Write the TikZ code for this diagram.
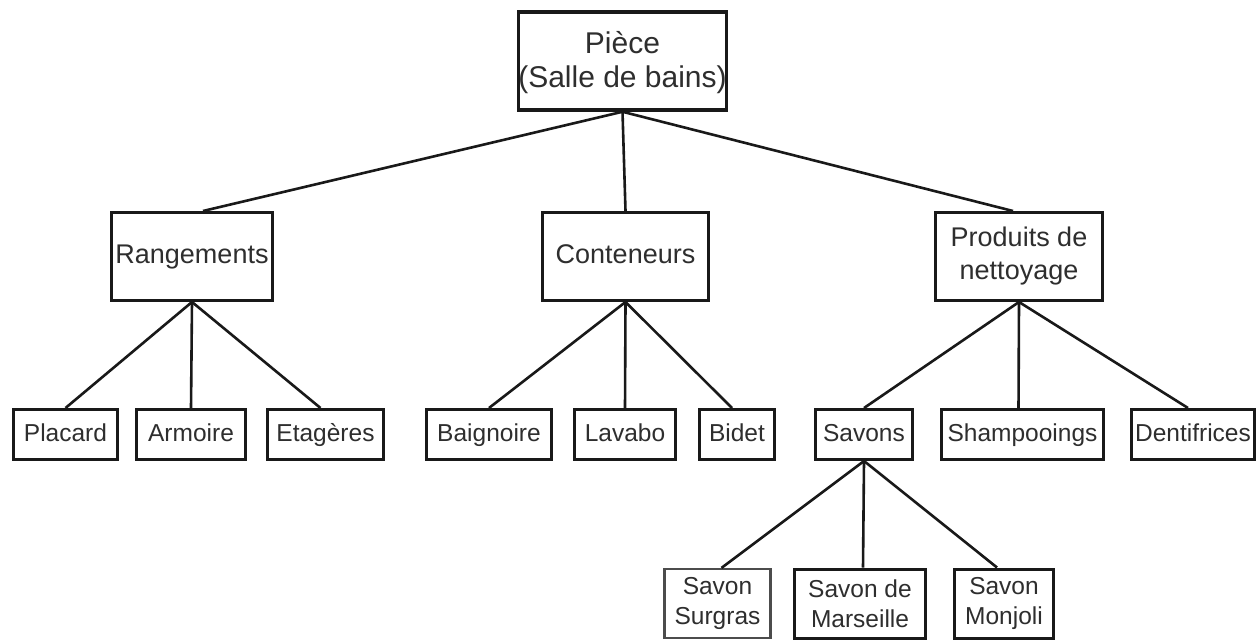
\documentclass[tikz,border=0pt]{standalone}
\usepackage{fontspec}
\setmainfont{Liberation Sans}
\begin{document}
\begin{tikzpicture}[x=1pt,y=-1pt,
  box/.style={draw=black!90, line width=3pt, inner sep=0pt, align=center, text=black!82},
  link/.style={draw=black!90, line width=2.6pt},
  one/.style={text height=18pt, text depth=5pt},
  fA/.style={font=\fontsize{30}{34}\selectfont},
  fB/.style={font=\fontsize{27}{33}\selectfont},
  fC/.style={font=\fontsize{24.5}{30}\selectfont}]
\fill[white] (0,0) rectangle (1257,640);
\useasboundingbox (0,0) rectangle (1257,640);
% level 0
\node[box,fA,line width=3.5pt,minimum width=207pt,minimum height=98pt] (top) at (622.5,61) {\rule{0pt}{26pt}Pièce\\(Salle de bains)};
% level 1
\node[box,fB,one,minimum width=161pt,minimum height=88pt] (ran) at (192,256.5) {Rangements};
\node[box,fB,one,minimum width=166pt,minimum height=88pt] (con) at (625.5,256.5) {Conteneurs};
\node[box,fB,minimum width=167pt,minimum height=88pt] (pro) at (1019,256.5) {Produits de\\nettoyage};
% level 2
\node[box,fC,one,minimum width=104pt,minimum height=50pt] (pla) at (65.5,434.5) {Placard};
\node[box,fC,one,minimum width=109pt,minimum height=50pt] (arm) at (191,434.5) {Armoire};
\node[box,fC,one,minimum width=116pt,minimum height=50pt] (eta) at (325.5,434.5) {Etagères};
\node[box,fC,one,minimum width=125pt,minimum height=50pt] (bai) at (489,434.5) {Baignoire};
\node[box,fC,one,minimum width=101pt,minimum height=50pt] (lav) at (625,434.5) {Lavabo};
\node[box,fC,one,minimum width=75pt,minimum height=50pt] (bid) at (737,434.5) {Bidet};
\node[box,fC,one,minimum width=97pt,minimum height=50pt] (sav) at (864,434.5) {Savons};
\node[box,fC,one,minimum width=162pt,minimum height=50pt] (sha) at (1022.5,434.5) {Shampooings};
\node[box,fC,one,minimum width=123pt,minimum height=50pt] (den) at (1193,434.5) {Dentifrices};
% level 3
\node[box,fC,line width=2.2pt,draw=black!70,minimum width=106pt,minimum height=69pt] (sur) at (717.5,603.5) {Savon\\Surgras};
\node[box,fC,minimum width=131pt,minimum height=69pt] (mar) at (860,603.5) {Savon de\\Marseille};
\node[box,fC,minimum width=99pt,minimum height=69pt] (mon) at (1004,603.5) {Savon\\Monjoli};
% connectors
\draw[link] (top.south) -- ([xshift=11pt]ran.north);
\draw[link] (top.south) -- (con.north);
\draw[link] (top.south) -- ([xshift=-6pt]pro.north);
\draw[link] (ran.south) -- (pla.north);
\draw[link] (ran.south) -- (arm.north);
\draw[link] (ran.south) -- ([xshift=-5pt]eta.north);
\draw[link] (con.south) -- (bai.north);
\draw[link] (con.south) -- (lav.north);
\draw[link] (con.south) -- ([xshift=-5pt]bid.north);
\draw[link] (pro.south) -- (sav.north);
\draw[link] (pro.south) -- ([xshift=-4pt]sha.north);
\draw[link] (pro.south) -- ([xshift=-5pt]den.north);
\draw[link] (sav.south) -- ([xshift=4pt]sur.north);
\draw[link] (sav.south) -- ([xshift=3pt]mar.north);
\draw[link] (sav.south) -- ([xshift=-7pt]mon.north);
\end{tikzpicture}
\end{document}
